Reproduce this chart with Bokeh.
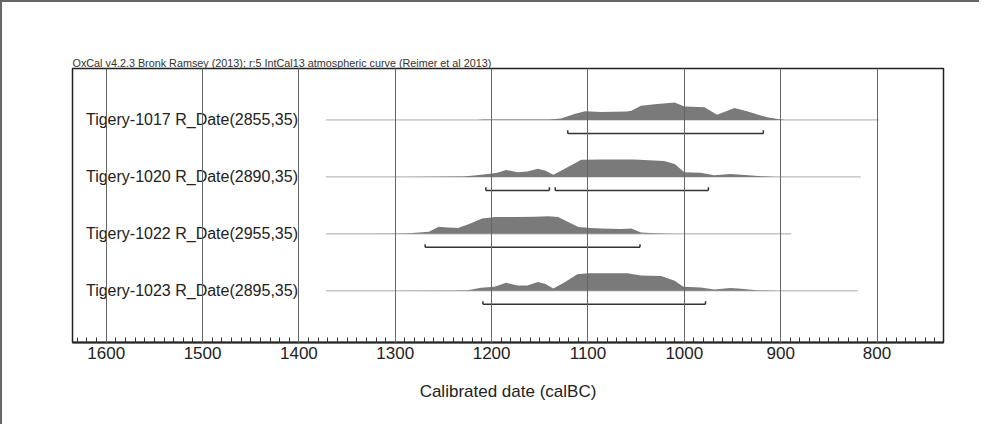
from bokeh.plotting import figure
from bokeh.models import Range1d, SingleIntervalTicker
from bokeh.core.properties import value
from bokeh.embed import file_html
from bokeh.resources import INLINE

# ---------------- data ----------------
labels = ["Tigery-1017 R_Date(2855,35)", "Tigery-1020 R_Date(2890,35)",
          "Tigery-1022 R_Date(2955,35)", "Tigery-1023 R_Date(2895,35)"]
rows = [0, 1, 2, 3]

# calibrated year (calBC) and relative probability (peak = 1)
yr_1017 = [1215, 1208, 1195, 1165, 1140, 1128, 1114, 1103, 1086, 1060, 1055, 1045,
           1031, 1010, 1000, 979, 966, 948, 935, 914, 903, 895]
pr_1017 = [0.0, 0.02, 0.03, 0.03, 0.02, 0.08, 0.34, 0.49, 0.45, 0.48, 0.53, 0.81,
           0.89, 1.0, 0.77, 0.72, 0.30, 0.68, 0.49, 0.15, 0.06, 0.0]

yr_1020 = [1290, 1230, 1218, 1204, 1194, 1185, 1173, 1163, 1152, 1144, 1136, 1128,
           1114, 1107, 1087, 1052, 1021, 1010, 1000, 983, 969, 952, 941, 930, 915, 905]
pr_1020 = [0.0, 0.02, 0.08, 0.17, 0.23, 0.40, 0.27, 0.31, 0.46, 0.35, 0.12, 0.35,
           0.77, 0.98, 1.0, 1.0, 0.91, 0.73, 0.27, 0.23, 0.10, 0.16, 0.13, 0.08, 0.02, 0.0]

yr_1022 = [1330, 1295, 1286, 1265, 1255, 1245, 1235, 1224, 1210, 1196, 1176, 1155,
           1141, 1131, 1110, 1097, 1086, 1066, 1055, 1045, 1030, 1010, 1000]
pr_1022 = [0.0, 0.02, 0.04, 0.12, 0.40, 0.36, 0.33, 0.55, 0.88, 0.96, 0.96, 0.98,
           1.0, 0.96, 0.39, 0.34, 0.31, 0.28, 0.31, 0.08, 0.03, 0.01, 0.0]

yr_1023 = [1300, 1240, 1225, 1211, 1197, 1185, 1173, 1163, 1152, 1144, 1136, 1125,
           1111, 1100, 1059, 1045, 1024, 1010, 1001, 983, 969, 952, 941, 925, 905]
pr_1023 = [0.0, 0.02, 0.04, 0.17, 0.23, 0.46, 0.31, 0.31, 0.50, 0.39, 0.13, 0.46,
           0.94, 1.0, 1.0, 0.88, 0.85, 0.58, 0.23, 0.19, 0.08, 0.16, 0.12, 0.04, 0.0]

dist_years = [yr_1017, yr_1020, yr_1022, yr_1023]
dist_probs = [pr_1017, pr_1020, pr_1022, pr_1023]

# extent of the thin baseline of each distribution (calBC)
line_from = [1372, 1372, 1372, 1372]
line_to = [798, 817, 889, 820]

# 95.4% ranges (row, from, to)
range_row = [0, 1, 1, 2, 3]
range_from = [1121, 1206, 1134, 1269, 1209]
range_to = [918, 1140, 975, 1046, 978]

title_text = "OxCal v4.2.3 Bronk Ramsey (2013); r:5 IntCal13 atmospheric curve (Reimer et al 2013)"
x_label = "Calibrated date (calBC)"

# ---------------- styling ----------------
FONT = value("Liberation Sans")
PEAK = 0.3075       # height of a peak, in row units
RANGE_OFF = 0.237   # offset of range bracket below baseline
CAP = 0.055         # bracket end cap height

p = figure(width=979, height=424, output_backend="svg", toolbar_location=None,
           x_range=Range1d(1635, 731), y_range=Range1d(3.907, -0.903),
           min_border_left=70, min_border_right=38, min_border_top=66,
           min_border_bottom=84, background_fill_color="white",
           border_fill_color="white")
p.styles = {"border-top": "2px solid #666", "border-left": "2px solid #666"}

p.outline_line_color = "#222"
p.outline_line_width = 1.5

p.yaxis.visible = False
p.ygrid.visible = False

ax = p.xaxis[0]
ax.ticker = SingleIntervalTicker(interval=100, num_minor_ticks=10)
ax.major_tick_in = 10
ax.major_tick_out = 0
ax.minor_tick_in = 5
ax.minor_tick_out = 0
ax.major_tick_line_color = "#333"
ax.minor_tick_line_color = "#333"
ax.axis_line_color = "#222"
ax.axis_line_width = 1.8
ax.major_label_text_font = "Liberation Sans"
ax.major_label_text_font_size = "17px"
ax.major_label_text_color = "#222"
ax.major_label_standoff = 4
ax.axis_label = x_label
ax.axis_label_text_font = "Liberation Sans"
ax.axis_label_text_font_size = "17px"
ax.axis_label_text_font_style = "normal"
ax.axis_label_text_color = "#222"
ax.axis_label_standoff = 20

g = p.xgrid[0]
g.ticker = SingleIntervalTicker(interval=100)
g.grid_line_color = "#666"
g.grid_line_width = 1
g.level = "overlay"

p.title.text = title_text
p.title.align = "left"
p.title.text_font = "Liberation Sans"
p.title.text_font_size = "10.8px"
p.title.text_font_style = "normal"
p.title.text_color = "#333"
p.title.offset = 0
p.title.standoff = 0

# thin baselines
p.segment(x0=line_from, y0=rows, x1=line_to, y1=rows, line_color="#aaaaaa", line_width=1)

# distributions
for r, yrs, prs in zip(rows, dist_years, dist_probs):
    p.varea(x=yrs, y1=[r] * len(yrs), y2=[r - v * PEAK for v in prs],
            fill_color="#7a7a7a", fill_alpha=1.0)

# range brackets
by = [r + RANGE_OFF for r in range_row]
p.segment(x0=range_from, y0=by, x1=range_to, y1=by, line_color="#333", line_width=1.5)
p.segment(x0=range_from + range_to, y0=by + by, x1=range_from + range_to,
          y1=[b - CAP for b in by + by], line_color="#333", line_width=1.5)

# row labels
p.text(x=[1621] * len(rows), y=rows, text=labels, text_font=FONT,
       text_font_size="16px", text_color="#222", text_baseline="middle",
       text_align="left")

open("out.html", "w").write(file_html(p, INLINE))
